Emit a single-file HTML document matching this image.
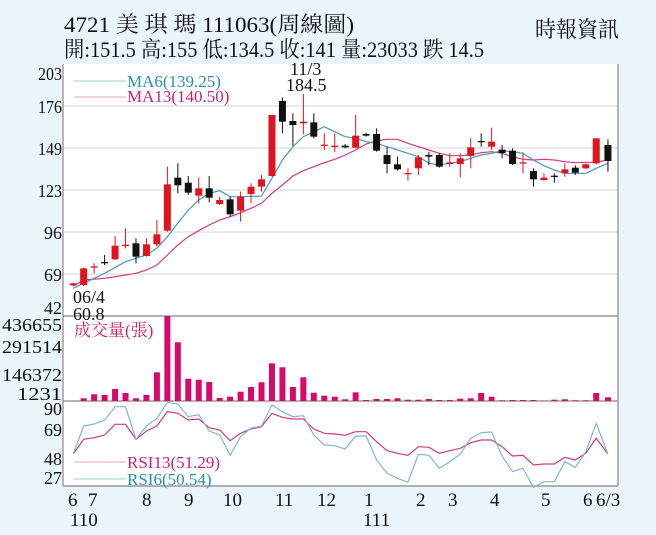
<!DOCTYPE html>
<html><head><meta charset="utf-8"><style>
body{margin:0;width:656px;height:535px;background:#e9f4fb;overflow:hidden}
svg{display:block}
text{font-family:"Liberation Serif","Noto Serif CJK SC",serif}
</style></head><body>
<svg id="s" width="656" height="535" xmlns="http://www.w3.org/2000/svg">
<rect x="63" y="64" width="555" height="422" fill="#fff"/>
<g stroke="#d4d4d4" stroke-width="1">
<line x1="63" x2="618" y1="106" y2="106"/><line x1="63" x2="618" y1="148" y2="148"/>
<line x1="63" x2="618" y1="190" y2="190"/><line x1="63" x2="618" y1="232" y2="232"/>
<line x1="63" x2="618" y1="274" y2="274"/>
</g>
<g stroke="#888" stroke-width="1.2" fill="none">
<line x1="63" x2="618" y1="316" y2="316"/><line x1="63" x2="618" y1="401" y2="401"/>
<line x1="63" x2="618" y1="486" y2="486"/><line x1="63" x2="63" y1="64" y2="486"/><line x1="618" x2="618" y1="64" y2="486"/>
</g>
<g id="g"></g>
<g font-size="22" fill="#111">
<text x="64" y="32" textLength="290" lengthAdjust="spacingAndGlyphs">4721  美 琪 瑪 111063(周線圖)</text>
<text x="535" y="37" textLength="84" lengthAdjust="spacingAndGlyphs">時報資訊</text>
<text x="64" y="57" textLength="420" lengthAdjust="spacingAndGlyphs">開:151.5 高:155 低:134.5 收:141 量:23033 跌 14.5</text>
</g>
<g font-size="18" fill="#111" text-anchor="end">
<text x="62" y="80" textLength="24" lengthAdjust="spacingAndGlyphs">203</text><text x="62" y="113" textLength="24" lengthAdjust="spacingAndGlyphs">176</text><text x="62" y="155" textLength="24" lengthAdjust="spacingAndGlyphs">149</text>
<text x="62" y="197" textLength="24" lengthAdjust="spacingAndGlyphs">123</text><text x="62" y="239">96</text><text x="62" y="281">69</text><text x="62" y="314">42</text>
<text x="62" y="331" textLength="60" lengthAdjust="spacingAndGlyphs">436655</text>
<text x="62" y="353" textLength="60" lengthAdjust="spacingAndGlyphs">291514</text>
<text x="62" y="381" textLength="60" lengthAdjust="spacingAndGlyphs">146372</text>
<text x="62" y="400" textLength="45" lengthAdjust="spacingAndGlyphs">1231</text>
<text x="62" y="415">90</text><text x="62" y="436">69</text><text x="62" y="465">48</text><text x="62" y="484">27</text>
</g>
<g font-size="18" fill="#111">
<text x="73" y="303">06/4</text><text x="73" y="320">60.8</text>
<text x="290" y="75">11/3</text><text x="286" y="91">184.5</text>
</g>
<g font-size="19" fill="#111">
<text x="68" y="506">6</text><text x="88" y="506">7</text><text x="142" y="506">8</text><text x="184" y="506">9</text>
<text x="223" y="506">10</text><text x="275" y="506">11</text><text x="317" y="506">12</text><text x="364" y="506">1</text>
<text x="416" y="506">2</text><text x="448" y="506">3</text><text x="490" y="506">4</text><text x="541" y="506">5</text>
<text x="583" y="506">6</text><text x="596" y="506">6/3</text>
<text x="70" y="526">110</text><text x="363" y="526">111</text>
</g>
<g font-size="17">
<line x1="74" x2="126" y1="81" y2="81" stroke="#9cc" /><text x="127" y="87" fill="#2a8fb0">MA6(139.25)</text>
<line x1="74" x2="126" y1="97" y2="97" stroke="#dab" /><text x="127" y="102" fill="#d0206a">MA13(140.50)</text>
<text x="74" y="336" fill="#d0206a">成交量(張)</text>
<line x1="74" x2="126" y1="462" y2="462" stroke="#dab" /><text x="127" y="468" fill="#d0206a">RSI13(51.29)</text>
<line x1="74" x2="126" y1="479" y2="479" stroke="#9cc" /><text x="127" y="485" fill="#2a8fb0">RSI6(50.54)</text>
</g>
</svg>
<script>
var C=[[175,850,856,848,858,1],[200,805,855,803,858,1],[225,799,802,790,820,1],[250,786,788,765,795,0],[275,737,778,708,780,1],[300,734,737,685,745,1],[325,730,770,715,790,0],[350,733,768,715,770,1],[375,703,733,660,740,1],[400,553,692,500,695,1],[425,533,556,490,580,0],[450,548,578,528,585,0],[475,565,587,532,610,1],[500,565,593,528,607,0],[525,600,612,590,615,1],[550,598,643,590,650,0],[575,590,632,575,665,1],[600,560,582,550,610,1],[625,538,560,525,575,1],[650,345,528,345,530,1],[675,303,365,292,400,0],[700,363,375,340,437,0],[725,365,370,282,403,1],[750,367,410,340,415,0],[775,434,437,400,450,1],[800,437,440,400,457,1],[825,437,442,432,445,0],[850,407,443,345,445,1],[875,402,407,398,410,0],[900,402,452,385,455,0],[925,465,492,440,520,0],[950,493,508,470,512,0],[975,519,522,505,542,1],[1000,472,505,465,525,1],[1025,465,470,455,495,0],[1050,465,500,460,503,0],[1075,487,492,460,500,1],[1100,475,492,460,532,1],[1125,442,468,415,505,1],[1150,423,427,400,440,0],[1175,425,440,383,450,1],[1200,449,459,435,475,0],[1225,452,492,445,495,0],[1250,487,490,458,520,1],[1275,513,538,505,560,0],[1300,533,540,520,542,1],[1325,527,530,520,548,0],[1350,508,520,490,530,1],[1375,503,518,496,525,0],[1400,493,505,490,507,1],[1425,415,490,415,493,1],[1453,435,483,418,515,0]];
var MA6=[[175,865],[200,850],[250,820],[300,785],[350,765],[375,745],[400,710],[425,670],[450,630],[475,600],[500,580],[525,572],[550,590],[575,590],[625,588],[650,535],[675,480],[700,440],[725,410],[750,395],[775,380],[800,395],[825,410],[850,415],[875,425],[900,430],[925,440],[950,450],[975,460],[1000,470],[1025,490],[1050,495],[1075,490],[1100,485],[1125,475],[1150,465],[1175,460],[1200,452],[1225,455],[1250,460],[1275,480],[1300,497],[1325,510],[1350,520],[1375,520],[1400,520],[1425,505],[1453,490]];
var MA13=[[175,858],[200,840],[250,835],[300,825],[325,820],[350,810],[375,795],[400,765],[425,735],[450,710],[475,692],[500,675],[525,660],[550,650],[575,638],[600,625],[625,610],[650,580],[675,555],[700,528],[725,512],[750,500],[775,488],[800,478],[825,465],[850,450],[875,432],[900,422],[925,418],[950,418],[975,430],[1000,440],[1025,450],[1050,460],[1075,467],[1100,467],[1125,465],[1150,458],[1175,455],[1200,460],[1225,470],[1250,478],[1275,480],[1300,478],[1325,480],[1350,485],[1375,488],[1400,487],[1425,487],[1453,480]];
var V=[[200,295],[225,283],[250,285],[275,267],[300,279],[325,295],[350,285],[375,217],[400,48],[425,127],[450,236],[475,239],[500,246],[525,294],[550,290],[575,275],[600,261],[625,247],[650,190],[675,202],[700,261],[725,232],[750,278],[775,287],[800,290],[825,298],[850,277],[875,300],[900,297],[925,297],[950,295],[975,299],[1000,299],[1025,297],[1050,300],[1075,300],[1100,296],[1125,295],[1150,279],[1175,290],[1200,301],[1225,300],[1250,300],[1275,300],[1300,302],[1325,299],[1350,298],[1375,301],[1400,301],[1425,279],[1453,292]];
var X=[175,200,225,250,275,300,325,350,375,400,425,450,475,500,525,550,575,600,625,650,675,700,725,750,775,800,825,850,875,900,925,950,975,1000,1025,1050,1075,1100,1125,1150,1175,1200,1225,1250,1275,1300,1325,1350,1375,1400,1425,1453];
var R13=[462,418,413,405,373,373,418,393,378,335,340,360,357,383,390,422,400,387,380,340,352,357,357,387,400,402,406,395,395,425,452,460,466,440,442,460,452,445,428,420,420,440,468,466,495,492,492,472,480,460,415,462];
var R6=[462,378,372,360,320,320,418,378,355,307,312,350,344,393,405,466,410,385,378,315,335,350,347,405,435,437,447,408,408,480,520,535,547,463,466,505,485,462,415,398,396,468,515,505,562,545,545,485,502,455,370,462];
var sx=function(x){return (x/2.39).toFixed(1)};
var h='';
function pl(pts,off,col){return '<polyline fill="none" stroke="'+col+'" stroke-width="1.2" points="'+pts.map(function(p){return sx(p[0])+','+(off+p[1]/3).toFixed(1)}).join(' ')+'"/>';}
V.forEach(function(v){var y=300+v[1]/3;h+='<rect x="'+(v[0]/2.39-3)+'" y="'+y.toFixed(1)+'" width="6" height="'+(401-y).toFixed(1)+'" fill="#d60a6a"/>';});
h+=pl(MA13,0,'#d33a78')+pl(MA6,0,'#4a9ab8');
C.forEach(function(c){var x=c[0]/2.39,col=c[5]?'#e0141e':'#111';var t=c[1]/3,b=c[2]/3;if(b-t<1.3){b=t+1.3;}
h+='<line x1="'+x+'" x2="'+x+'" y1="'+(c[3]/3)+'" y2="'+(c[4]/3)+'" stroke="'+col+'" stroke-width="1"/>';
h+='<rect x="'+(x-3.5)+'" y="'+t+'" width="7" height="'+(b-t)+'" fill="'+col+'"/>';});
h+=pl(X.map(function(x,i){return [x,R13[i]]}),300,'#d33a78')+pl(X.map(function(x,i){return [x,R6[i]]}),300,'#7fb8cc');
document.getElementById('g').innerHTML=h;
</script>
</body></html>
